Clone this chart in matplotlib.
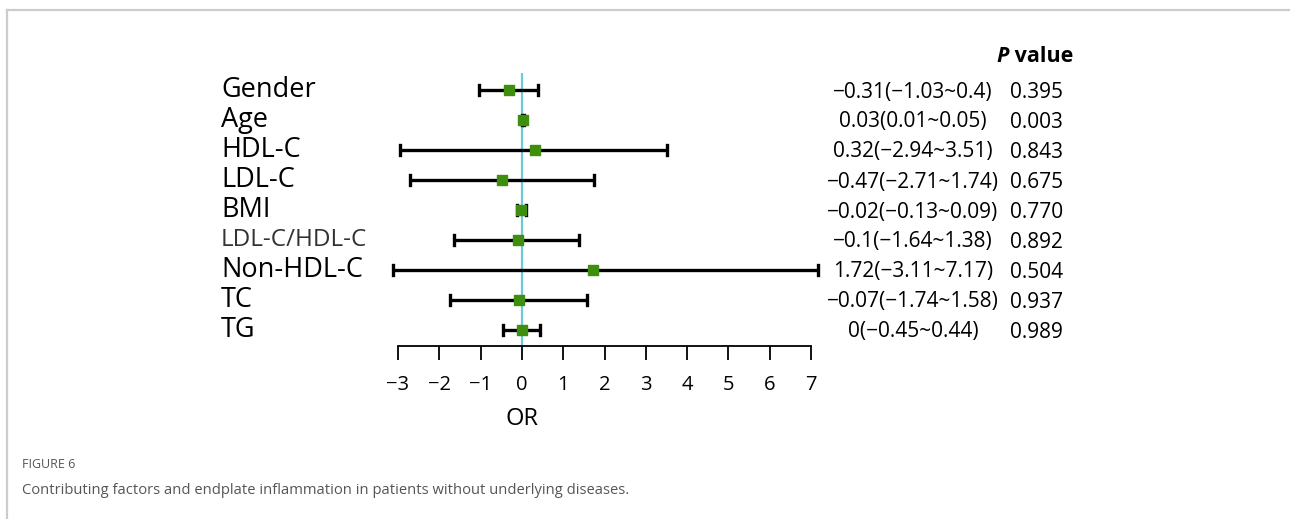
import matplotlib.pyplot as plt
from matplotlib.lines import Line2D

plt.rcParams['font.family'] = ['Open Sans', 'DejaVu Sans']

labels = ['Gender', 'Age', 'HDL-C', 'LDL-C', 'BMI', 'LDL-C/HDL-C', 'Non-HDL-C', 'TC', 'TG']
est = [-0.31, 0.03, 0.32, -0.47, -0.02, -0.1, 1.72, -0.07, 0]
lo = [-1.03, 0.01, -2.94, -2.71, -0.13, -1.64, -3.11, -1.74, -0.45]
hi = [0.4, 0.05, 3.51, 1.74, 0.09, 1.38, 7.17, 1.58, 0.44]
pvals = ['0.395', '0.003', '0.843', '0.675', '0.770', '0.892', '0.504', '0.937', '0.989']
ci_text = ['\u22120.31(\u22121.03~0.4)', '0.03(0.01~0.05)', '0.32(\u22122.94~3.51)',
           '\u22120.47(\u22122.71~1.74)', '\u22120.02(\u22120.13~0.09)', '\u22120.1(\u22121.64~1.38)',
           '1.72(\u22123.11~7.17)', '\u22120.07(\u22121.74~1.58)', '0(\u22120.45~0.44)']
xticks = [-3, -2, -1, 0, 1, 2, 3, 4, 5, 6, 7]

W, H = 1290, 519
fig = plt.figure(figsize=(W / 100, H / 100), dpi=100)

# light grey frame (top and left)
fig.add_artist(Line2D([7 / W, 1], [1 - 10 / H, 1 - 10 / H], color='#cccccc', lw=1.6))
fig.add_artist(Line2D([7 / W, 7 / W], [0, 1 - 10 / H], color='#cccccc', lw=1.6))

# forest axes: x -3..7 -> px 398..811, rows at y px 90 + 30*i
x0, x1 = 398, 811
ytop, ybot = 73, 346
ax = fig.add_axes([x0 / W, 1 - ybot / H, (x1 - x0) / W, (ybot - ytop) / H])
ax.set_xlim(-3, 7)
ax.set_ylim((ybot - 90) / 30, (ytop - 90) / 30)

rows = list(range(len(labels)))
ax.axvline(0, color='#6cc9d8', lw=1.6, zorder=1)
for i in rows:
    ax.plot([lo[i], hi[i]], [i, i], color='black', lw=2.4, clip_on=False, zorder=2,
            solid_capstyle='butt')
    for v in (lo[i], hi[i]):
        ax.plot([v, v], [i - 0.16, i + 0.16], color='black', lw=2.4, clip_on=False, zorder=2)
ax.scatter(est, rows, marker='s', s=42, color='#3f8f0f', zorder=3, clip_on=False)

for s in ('top', 'left', 'right'):
    ax.spines[s].set_visible(False)
ax.spines['bottom'].set_linewidth(1.3)
ax.set_yticks([])
ax.set_xticks(xticks)
ax.set_xticklabels([str(t).replace('-', '\u2212') for t in xticks])
ax.tick_params(axis='x', direction='out', length=10, width=1.3, labelsize=14.5, pad=11)
ax.set_xlabel('OR', fontsize=17)
ax.xaxis.set_label_coords(0.3, -0.225)

# row labels and right-hand columns
for i, lab in enumerate(labels):
    y = 1 - (90 + 30 * i) / H
    fs = 17.5 if lab == 'LDL-C/HDL-C' else 19.5
    fig.text(221 / W, y, lab, fontsize=fs, ha='left', va='center',
             color='#333333' if lab == 'LDL-C/HDL-C' else 'black')
    fig.text(913 / W, y - 2 / H, ci_text[i], fontsize=15, ha='center', va='center')
    fig.text(1010 / W, y - 2 / H, pvals[i], fontsize=15, ha='left', va='center')

fig.text(1009 / W, 1 - 57 / H, 'P', fontsize=15.5, ha='right', va='center',
         fontweight='bold', fontstyle='italic')
fig.text(1009 / W, 1 - 57 / H, ' value', fontsize=15.5, ha='left', va='center', fontweight='bold')

# caption
fig.text(22 / W, 1 - 465 / H, 'FIGURE 6', fontsize=9, color='#555555', ha='left', va='center')
fig.text(22 / W, 1 - 490 / H, 'Contributing factors and endplate inflammation in patients without underlying diseases.',
         fontsize=10.6, color='#555555', ha='left', va='center')

fig.savefig('out.png', dpi=100)
